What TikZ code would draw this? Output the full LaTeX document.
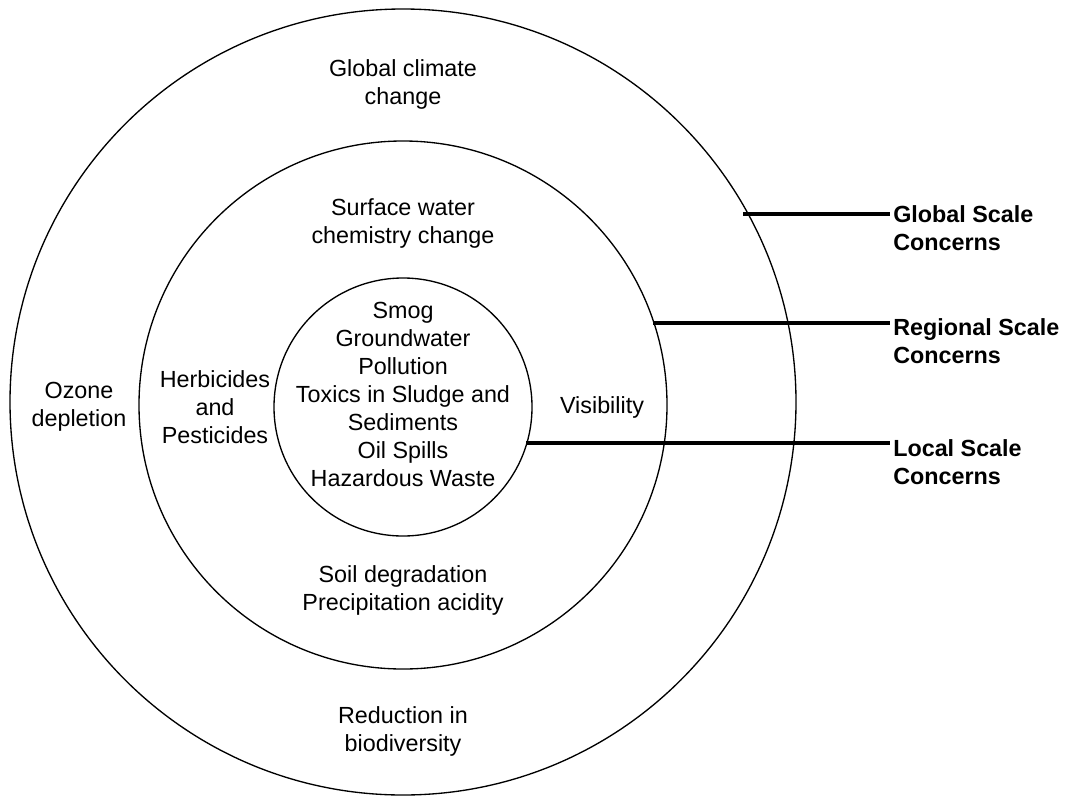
\documentclass[tikz,border=0pt]{standalone}
\usepackage{fontspec}
\setmainfont{Liberation Sans}
\begin{document}
\begin{tikzpicture}[x=0.75pt,y=-0.75pt,
		ring/.style={draw, circle, line width=1pt, inner sep=0pt},
		txt/.style={align=center, inner sep=0pt, font=\fontsize{17.5}{21}\selectfont},
		scalelab/.style={align=left, anchor=north west, inner xsep=2.25pt, inner ysep=0pt, font=\fontsize{17.5}{21}\selectfont\bfseries},
		lead/.style={line width=3pt}]
		\useasboundingbox (0,0) rectangle (1066,796);
		
		%cerchi
		\node[ring, minimum size=589.5pt] (outer) at (403,402) {};
		\node[ring, minimum size=396pt] (middle) at (403,405) {};
		\node[ring, minimum size=193.5pt] (inner) at (403,407) {};
		
		%nomi
		\node[txt] (climate) at (403,84) {Global climate\\change};
		\node[txt] (surface) at (403,223) {Surface water\\chemistry change};
		\node[txt] (local) at (403,394) {Smog\\Groundwater\\Pollution\\Toxics in Sludge and\\Sediments\\Oil Spills\\Hazardous Waste};
		\node[txt] (herb) at (215,407) {Herbicides\\and\\Pesticides};
		\node[txt] (ozone) at (79,407) {Ozone\\depletion};
		\node[txt] (vis) at (602,407) {Visibility};
		\node[txt] (soil) at (403,590) {Soil degradation\\Precipitation acidity};
		\node[txt] (bio) at (403,731) {Reduction in\\biodiversity};
		
		%etichette
		\node[scalelab] (glob) at (890,205) {Global Scale\\Concerns};
		\node[scalelab] (reg) at (890,318) {Regional Scale\\Concerns};
		\node[scalelab] (loc) at (890,439) {Local Scale\\Concerns};
		
		%linee
		\coordinate (gstart) at (743,214);
		\coordinate (rstart) at (653,322.5);
		\coordinate (lstart) at (526,443);
		\draw[lead] (gstart) -- (gstart -| glob.west);
		\draw[lead] (rstart) -- (rstart -| reg.west);
		\draw[lead] (lstart) -- (lstart -| loc.west);
		
	\end{tikzpicture}
\end{document}
